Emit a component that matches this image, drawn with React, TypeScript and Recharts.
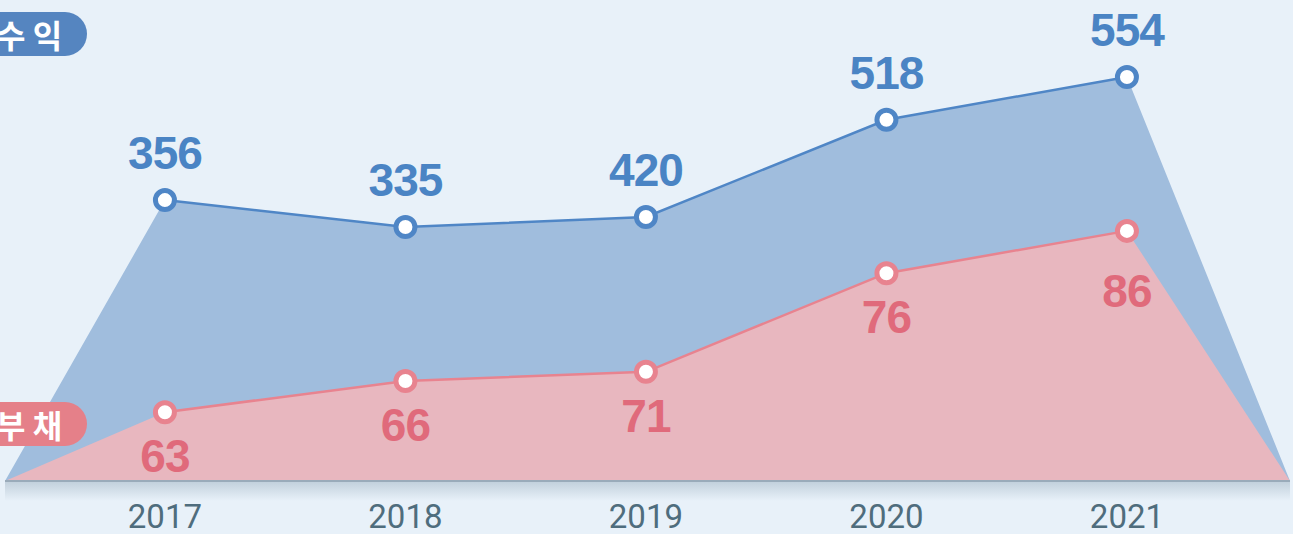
import { ComposedChart, Area, Line, XAxis, YAxis, LabelList } from "recharts";

const years = [2017, 2018, 2019, 2020, 2021];
const revenue = [356, 335, 420, 518, 554];
const debt = [63, 66, 71, 76, 86];

// the infographic is not drawn to scale, so the heights (in % of the plot) are read off the picture
const revenueLevel = [58.4, 52.8, 54.9, 75.1, 84.0];
const debtLevel = [14.3, 20.8, 22.7, 43.2, 52.0];

// both areas fall back to the baseline a little outside the first and last year
const edgeStart = 2016.335;
const edgeEnd = 2021.678;

const BLUE = "#4f86c6";
const BLUE_FILL = "#a0bddd";
const PINK = "#e8838f";
const PINK_FILL = "#e8b7bf";
const BG = "#e8f1f9";

const data = [
  { x: edgeStart, revArea: 0, debtArea: 0 },
  ...years.map((y, i) => ({
    x: y,
    revArea: revenueLevel[i],
    debtArea: debtLevel[i],
    revLine: revenueLevel[i],
    debtLine: debtLevel[i],
    revLabel: revenue[i],
    debtLabel: debt[i],
  })),
  { x: edgeEnd, revArea: 0, debtArea: 0 },
];

const labelFont = {
  fontFamily: "'Liberation Sans', Arial, sans-serif",
  fontWeight: 700,
  fontSize: 46,
  letterSpacing: -1,
};

function makeLabel(color: string, dy: number, lastDy = dy) {
  return (props: any) => {
    const { x, y, value, index } = props;
    if (value == null) return null;
    // the last label sits a bit lower in the original, clear of the falling edge
    const off = index === data.length - 2 ? lastDy : dy;
    return (
      <text x={x} y={y + off} textAnchor="middle" fill={color} style={labelFont}>
        {value}
      </text>
    );
  };
}

function makeDot(color: string) {
  return (props: any) => {
    const { cx, cy, value, index } = props;
    if (value == null || cy == null) return <g key={`d${index}`} />;
    return (
      <circle key={`d${index}`} cx={cx} cy={cy} r={9.5} fill="#fff" stroke={color} strokeWidth={5} />
    );
  };
}

function Pill({ text, top, color }: { text: string; top: number; color: string }) {
  return (
    <div
      style={{
        position: "absolute",
        left: -30,
        top,
        width: 117,
        height: 44,
        borderRadius: 22,
        background: color,
        color: "#fff",
        fontFamily: "'Noto Sans CJK KR', 'Noto Sans', sans-serif",
        fontWeight: 700,
        fontSize: 32,
        lineHeight: "44px",
        paddingLeft: 26,
        boxSizing: "border-box",
        whiteSpace: "pre",
      }}
    >
      {text}
    </div>
  );
}

export default function App() {
  return (
    <div
      style={{
        position: "absolute",
        left: 0,
        top: 0,
        width: 1293,
        height: 534,
        background: BG,
        overflow: "hidden",
      }}
    >
      <div
        style={{
          position: "absolute",
          left: 5,
          top: 481,
          width: 1285,
          height: 20,
          background: "linear-gradient(to bottom, rgba(120,145,165,0.35), rgba(232,241,249,0))",
        }}
      />
      <ComposedChart
        width={1293}
        height={534}
        data={data}
        margin={{ top: 0, right: 3, bottom: 0, left: 5 }}
        style={{ position: "absolute", left: 0, top: 0 }}
      >
        <XAxis
          type="number"
          dataKey="x"
          domain={[edgeStart, edgeEnd]}
          ticks={years}
          interval={0}
          height={53}
          tickLine={false}
          tickSize={0}
          tickMargin={24}
          axisLine={{ stroke: "#9aabba", strokeWidth: 2 }}
          tick={{ fill: "#4f6d7d", fontSize: 33, fontFamily: "Roboto, sans-serif", fontWeight: 400 }}
        />
        <YAxis hide domain={[0, 100]} />
        <Area
          dataKey="revArea"
          type="linear"
          stroke="none"
          fill={BLUE_FILL}
          fillOpacity={1}
          isAnimationActive={false}
        />
        <Area
          dataKey="debtArea"
          type="linear"
          stroke="none"
          fill={PINK_FILL}
          fillOpacity={1}
          isAnimationActive={false}
        />
        <Line
          dataKey="revLine"
          type="linear"
          stroke={BLUE}
          strokeWidth={2.5}
          dot={makeDot(BLUE)}
          activeDot={false}
          isAnimationActive={false}
        >
          <LabelList dataKey="revLabel" content={makeLabel("#4a84c4", -31)} />
        </Line>
        <Line
          dataKey="debtLine"
          type="linear"
          stroke={PINK}
          strokeWidth={2.5}
          dot={makeDot(PINK)}
          activeDot={false}
          isAnimationActive={false}
        >
          <LabelList dataKey="debtLabel" content={makeLabel("#e06a7b", 60, 76)} />
        </Line>
      </ComposedChart>
      <Pill text="수 익" top={12} color="#5585c0" />
      <Pill text="부 채" top={402} color="#e58089" />
    </div>
  );
}
